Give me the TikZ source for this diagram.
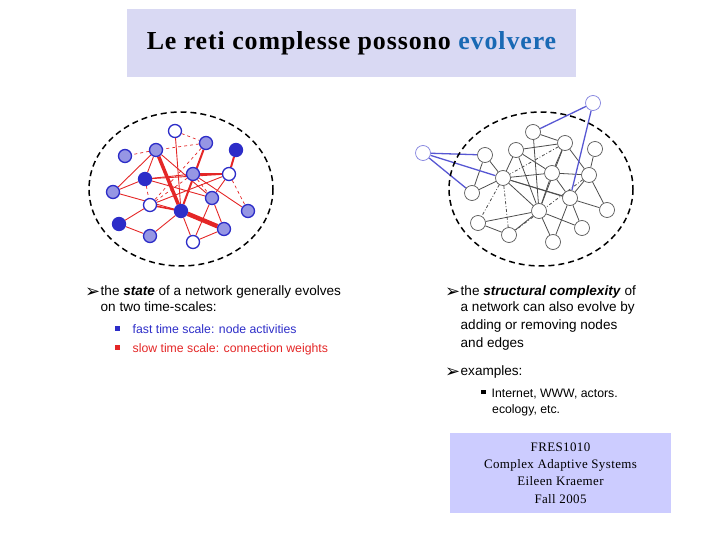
\documentclass[tikz,border=0pt]{standalone}
\usepackage{fontspec}
\setmainfont{Liberation Serif}
\setsansfont{Liberation Sans}
\newfontfamily\dingfont{DejaVu Sans}
\usetikzlibrary{shapes,positioning,backgrounds}
\definecolor{netblue}{RGB}{45,45,200}
\definecolor{netred}{RGB}{228,38,38}
\definecolor{titleblue}{RGB}{25,105,180}
\definecolor{titlebg}{RGB}{217,217,243}
\definecolor{footbg}{RGB}{204,204,255}
\tikzstyle{act} = [circle, draw=netblue, line width=1.3pt, fill=netblue,
    minimum size=13bp, inner sep=0pt]
\tikzstyle{mid} = [act, fill=netblue!50]
\tikzstyle{off} = [act, fill=white]
\tikzstyle{plain} = [circle, draw=black!65, fill=white, line width=0.7pt,
    minimum size=15bp, inner sep=0pt]
\tikzstyle{ext} = [plain, draw=netblue!60]
\tikzstyle{wt} = [netred, line width=0.9pt]
\tikzstyle{lnk} = [black!70, line width=0.8pt]
\tikzstyle{txt} = [anchor=base west, inner sep=0pt, font=\sffamily\fontsize{13.6}{16}\selectfont]
\tikzstyle{subtxt} = [txt, font=\sffamily\fontsize{12.3}{15}\selectfont]
\newcommand{\arrowbullet}{{\dingfont\fontsize{18}{18}\selectfont ➢}}
\newcommand{\sqbullet}{\raisebox{3bp}{\rule{4.5bp}{4.5bp}}}

\begin{document}
\begin{tikzpicture}[x=1bp, y=-1bp]
  \useasboundingbox (0,0) rectangle (720,540);
  % title and footer
  \node [fill=titlebg, minimum width=449bp, minimum height=68bp, inner sep=0pt] (title) at (351.5,43)
    {\addfontfeature{LetterSpace=3.5}\fontsize{26}{30}\selectfont\bfseries Le reti complesse possono \textcolor{titleblue}{evolvere}};
  \node [fill=footbg, minimum width=221bp, minimum height=80bp, inner sep=0pt, align=center,
    font=\addfontfeature{LetterSpace=3}\fontsize{13}{17.3}\selectfont] (foot) at (560.5,473)
    {FRES1010\\Complex Adaptive Systems\\Eileen Kraemer\\Fall 2005};

  % left network: state
  \draw [dashed, line width=1.5pt, dash pattern=on 6pt off 4pt] (181,189) ellipse [x radius=92, y radius=77];
  \node [off] (n1) at (175,131) {};
  \node [mid] (n2) at (206,143) {};
  \node [act] (n3) at (236,150) {};
  \node [mid] (n4) at (156,150) {};
  \node [mid] (n5) at (125,156) {};
  \node [act] (n6) at (145,179) {};
  \node [mid] (n7) at (193,174) {};
  \node [off] (n8) at (229,174) {};
  \node [mid] (n9) at (113,192) {};
  \node [off] (n10) at (150,205) {};
  \node [act] (n11) at (181,211) {};
  \node [mid] (n12) at (212,198) {};
  \node [mid] (n13) at (248,211) {};
  \node [act] (n14) at (119,224) {};
  \node [mid] (n15) at (150,236) {};
  \node [mid] (n16) at (224,229) {};
  \node [off] (n17) at (193,242) {};
  \begin{scope}[on background layer]
  \foreach \a/\b in {n1/n2, n2/n4, n2/n10, n4/n5, n6/n10, n7/n12, n8/n13, n7/n10}
    \draw [wt, dashed, line width=0.7pt] (\a) -- (\b);
  \foreach \a/\b in {n1/n11, n4/n6, n4/n9, n6/n9, n6/n8, n6/n12, n6/n7, n10/n14, n10/n8,
      n12/n16, n12/n17, n11/n17, n14/n15, n15/n11, n16/n17, n8/n12, n7/n13, n4/n12, n9/n11}
    \draw [wt] (\a) -- (\b);
  \draw [wt, line width=2pt] (n2) -- (n11);
  \draw [wt, line width=2pt] (n3) -- (n8);
  \draw [wt, line width=2pt] (n7) -- (n8);
  \draw [wt, line width=1.6pt] (n10) -- (n11);
  \draw [wt, line width=3.5pt] (n4) -- (n11);
  \draw [wt, line width=4.5pt] (n11) -- (n16);
  \end{scope}

  % right network: structure
  \draw [dashed, line width=1.5pt, dash pattern=on 6pt off 4pt] (541,189) ellipse [x radius=92, y radius=77];
  \node [ext] (r1) at (423,153) {};
  \node [plain] (r2) at (485,155) {};
  \node [plain] (r3) at (472,193) {};
  \node [plain] (r4) at (503,178) {};
  \node [plain] (r5) at (516,150) {};
  \node [plain] (r6) at (533,132) {};
  \node [plain] (r7) at (565,143) {};
  \node [plain] (r8) at (595,149) {};
  \node [plain] (r9) at (552,173) {};
  \node [plain] (r10) at (589,175) {};
  \node [plain] (r11) at (570,198) {};
  \node [plain] (r12) at (539,211) {};
  \node [plain] (r13) at (607,210) {};
  \node [plain] (r14) at (478,223) {};
  \node [plain] (r15) at (509,235) {};
  \node [plain] (r16) at (553,242) {};
  \node [plain] (r17) at (582,228) {};
  \node [ext] (r18) at (593,103) {};
  \begin{scope}[on background layer]
  \foreach \a/\b in {r2/r3, r2/r4, r3/r4, r4/r5, r5/r12, r4/r9, r4/r11, r4/r12, r5/r9, r5/r7,
      r6/r7, r6/r12, r7/r9, r7/r10, r9/r12, r9/r11, r9/r10, r10/r11, r10/r13, r10/r8, r11/r16,
      r11/r17, r12/r16, r12/r17, r12/r15, r14/r15, r14/r12, r4/r13, r7/r12}
    \draw [lnk] (\a) -- (\b);
  \foreach \a/\b in {r4/r14, r4/r15, r7/r4, r10/r15}
    \draw [lnk, dash dot] (\a) -- (\b);
  \foreach \a/\b in {r1/r2, r1/r4, r1/r3, r18/r6, r18/r11}
    \draw [netblue!80, line width=1.3pt] (\a) -- (\b);
  \end{scope}

  % left text
  \node [txt] (s0) at (85,297) {\arrowbullet};
  \node [txt] (s1) at (100.5,295) {the \textbf{\textit{state}} of a network generally evolves};
  \node [txt] (s2) at (100.5,311) {on two time-scales:};
  \node [subtxt, text=netblue] (s3) at (115,333.5) {\sqbullet\hspace{13bp}fast time scale: node activities};
  \node [subtxt, text=netred] (s4) at (115,352.5) {\sqbullet\hspace{13bp}slow time scale: connection weights};

  % right text
  \node [txt] (t0) at (445,297) {\arrowbullet};
  \node [txt] (t1) at (460.5,295) {the \textbf{\textit{structural complexity}} of};
  \node [txt] (t2) at (460.5,311.5) {a network can also evolve by};
  \node [txt] (t3) at (460.5,329.5) {adding or removing nodes};
  \node [txt] (t4) at (460.5,347) {and edges};
  \node [txt] (t5) at (445,377) {\arrowbullet};
  \node [txt] (t6) at (460.5,375) {examples:};
  \node [subtxt] (t7) at (481,397) {\sqbullet\hspace{6bp}Internet, WWW, actors.};
  \node [subtxt] (t8) at (492,413) {ecology, etc.};
\end{tikzpicture}
\end{document}
